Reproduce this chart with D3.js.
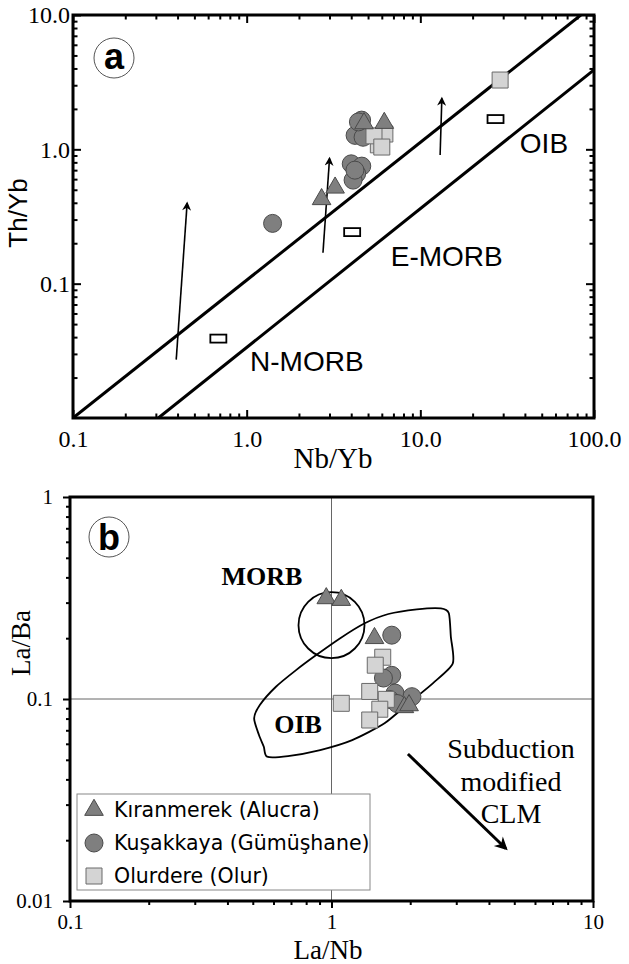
<!DOCTYPE html>
<html><head><meta charset="utf-8">
<script src="https://cdn.jsdelivr.net/npm/d3@7"></script>
<style>body{margin:0;background:#fff}</style>
</head><body>
<svg id="c" width="629" height="964"></svg>
<script>
// ---------------- DATA ----------------
// Panel a: Nb/Yb vs Th/Yb
const aKiranmerekNb = [2.70, 3.23, 4.74, 6.2];
const aKiranmerekTh = [0.425, 0.518, 1.56, 1.57];
const aKusakkayaNb = [1.41, 4.0, 4.6, 4.3, 4.1, 4.2, 4.59, 4.21, 4.68, 4.4];
const aKusakkayaTh = [0.281, 0.78, 0.75, 0.66, 0.59, 0.70, 1.65, 1.27, 1.23, 1.6];
const aOlurdereNb = [5.73, 6.25, 5.41, 6.0, 28.8];
const aOlurdereTh = [1.08, 1.30, 1.26, 1.04, 3.28];
const aRefNames = ["N-MORB", "E-MORB", "OIB"];
const aRefNb = [0.687, 4.05, 27.1];
const aRefTh = [0.039, 0.242, 1.68];
const aRefLabelNb = [2.22, 14.2, 51.5];
const aRefLabelTh = [0.0265, 0.161, 1.12];
const aArrayUpper = [[0.1, 0.01], [84, 10]];
const aArrayLower = [[0.31, 0.01], [100, 3.9]];
const aArrows = [[[0.393, 0.0272], [0.454, 0.396]], [[2.75, 0.170], [3.0, 0.853]], [[13.0, 0.909], [13.3, 2.39]]];
const aXTicks = [0.1, 1, 10, 100];
const aXTickLabels = ["0.1", "1.0", "10.0", "100.0"];
const aYTicks = [0.1, 1, 10];
const aYTickLabels = ["0.1", "1.0", "10.0"];

// Panel b: La/Nb vs La/Ba
const bKiranmerekLaNb = [0.955, 1.09, 1.46, 1.90, 1.98];
const bKiranmerekLaBa = [0.315, 0.309, 0.200, 0.091, 0.093];
const bKusakkayaLaNb = [1.70, 1.70, 1.58, 1.75, 2.03, 1.67, 1.78];
const bKusakkayaLaBa = [0.207, 0.131, 0.127, 0.107, 0.1027, 0.0994, 0.095];
const bOlurdereLaNb = [1.57, 1.47, 1.40, 1.09, 1.62, 1.53, 1.40];
const bOlurdereLaBa = [0.161, 0.147, 0.109, 0.0952, 0.0996, 0.089, 0.0787];
const bOibField = [[2.62,0.281],[2.81,0.266],[2.86,0.2035],[2.91,0.150],[2.44,0.1196],[1.97,0.0952],[1.595,0.0758],[1.20,0.0626],[0.905,0.0559],[0.682,0.0522],[0.567,0.0518],[0.551,0.058],[0.528,0.0663],[0.506,0.0802],[0.532,0.0934],[0.613,0.115],[0.732,0.139],[0.874,0.165],[1.08,0.20],[1.34,0.237],[1.65,0.2635],[2.12,0.278]];
const bMorbCenter = [1.0, 0.232];
const bArrow = [[1.96, 0.0534], [4.64, 0.0182]];
const bXTicks = [0.1, 1, 10];
const bXTickLabels = ["0.1", "1", "10"];
const bYTicks = [0.01, 0.1, 1];
const bYTickLabels = ["0.01", "0.1", "1"];
const legendLabels = ["Kıranmerek (Alucra)", "Kuşakkaya (Gümüşhane)", "Olurdere (Olur)"];
const minorMult = [2, 3, 4, 5, 6, 7, 8, 9];

// ---------------- DRAWING ----------------
const svg = d3.select("#c");
const serif = "'Liberation Serif','Times New Roman',serif";
const sans = "'Liberation Sans',Arial,sans-serif";
const dsans = "'DejaVu Sans',sans-serif";
const darkFill = "#7f7f7f", darkStroke = "#4a4a4a";
const lightFill = "#d4d4d4", lightStroke = "#6a6a6a";

const defs = svg.append("defs");
function marker(id, w, h) {
  defs.append("marker").attr("id", id).attr("viewBox", "0 0 10 10")
    .attr("refX", 8).attr("refY", 5).attr("markerUnits", "userSpaceOnUse")
    .attr("markerWidth", w).attr("markerHeight", h).attr("orient", "auto")
    .append("path").attr("d", "M0,0 L10,5 L0,10 L3,5 Z").attr("fill", "#000");
}
marker("headA", 10, 9);
marker("headB", 14, 13);

function minors(lo, hi) {
  const out = [];
  for (let e = Math.round(Math.log10(lo)); e < Math.round(Math.log10(hi)); e++)
    minorMult.forEach(m => out.push(m * Math.pow(10, e)));
  return out;
}

const sym = (type, size) => d3.symbol().type(type).size(size)();

function drawPoints(g, x, y, xs, ys, kind) {
  const pts = xs.map((v, i) => [v, ys[i]]);
  const sel = g.selectAll(null).data(pts).join("path")
    .attr("transform", d => `translate(${x(d[0])},${y(d[1])})`);
  if (kind === "tri") sel.attr("d", sym(d3.symbolTriangle, 150)).attr("fill", darkFill).attr("stroke", darkStroke).attr("stroke-width", 1);
  if (kind === "cir") sel.attr("d", sym(d3.symbolCircle, Math.PI * 81)).attr("fill", darkFill).attr("stroke", darkStroke).attr("stroke-width", 1);
  if (kind === "sq") sel.attr("d", sym(d3.symbolSquare, 256)).attr("fill", lightFill).attr("stroke", lightStroke).attr("stroke-width", 1);
}

// ===== Panel a =====
const A = {l: 73, r: 594, t: 15, b: 418};
const xa = d3.scaleLog().domain([0.1, 100]).range([A.l, A.r]);
const ya = d3.scaleLog().domain([0.01, 10]).range([A.b, A.t]);
const ga = svg.append("g");
defs.append("clipPath").attr("id", "clipA").append("rect").attr("x", A.l).attr("y", A.t).attr("width", A.r - A.l).attr("height", A.b - A.t);

function styleAxis(g) { g.select(".domain").remove(); g.selectAll("line").attr("stroke", "#000").attr("stroke-width", 2); }

const aXMin = minors(0.1, 100), aYMin = minors(0.01, 10);
ga.append("g").attr("transform", `translate(0,${A.b})`)
  .call(d3.axisBottom(xa).tickValues(aXTicks).tickSize(-8).tickPadding(12).tickFormat((d, i) => aXTickLabels[i]))
  .call(styleAxis).call(g => g.selectAll("text").attr("font-family", serif).attr("font-size", 24).attr("fill", "#000"));
ga.append("g").attr("transform", `translate(0,${A.b})`).call(d3.axisBottom(xa).tickValues(aXMin).tickSize(-4.5).tickFormat("")).call(styleAxis);
ga.append("g").attr("transform", `translate(0,${A.t})`).call(d3.axisTop(xa).tickValues(aXTicks).tickSize(-8).tickFormat("")).call(styleAxis);
ga.append("g").attr("transform", `translate(0,${A.t})`).call(d3.axisTop(xa).tickValues(aXMin).tickSize(-4.5).tickFormat("")).call(styleAxis);
ga.append("g").attr("transform", `translate(${A.l},0)`)
  .call(d3.axisLeft(ya).tickValues(aYTicks).tickSize(-8).tickPadding(3).tickFormat((d, i) => aYTickLabels[i]))
  .call(styleAxis).call(g => g.selectAll("text").attr("font-family", serif).attr("font-size", 24).attr("fill", "#000"));
ga.append("g").attr("transform", `translate(${A.l},0)`).call(d3.axisLeft(ya).tickValues(aYMin).tickSize(-4.5).tickFormat("")).call(styleAxis);
ga.append("g").attr("transform", `translate(${A.r},0)`).call(d3.axisRight(ya).tickValues(aYTicks).tickSize(-8).tickFormat("")).call(styleAxis);
ga.append("g").attr("transform", `translate(${A.r},0)`).call(d3.axisRight(ya).tickValues(aYMin).tickSize(-4.5).tickFormat("")).call(styleAxis);

const lineA = d3.line().x(d => xa(d[0])).y(d => ya(d[1]));
const plotA = ga.append("g").attr("clip-path", "url(#clipA)");
[aArrayUpper, aArrayLower].forEach(l => plotA.append("path").attr("d", lineA(l)).attr("stroke", "#000").attr("stroke-width", 3).attr("fill", "none"));
aArrows.forEach(a => ga.append("path").attr("d", lineA(a)).attr("stroke", "#000").attr("stroke-width", 1.6).attr("fill", "none").attr("marker-end", "url(#headA)"));

ga.selectAll(null).data(aRefNb).join("rect")
  .attr("x", (d) => xa(d) - 8).attr("y", (d, i) => ya(aRefTh[i]) - 4)
  .attr("width", 16).attr("height", 8).attr("fill", "#fff").attr("stroke", "#000").attr("stroke-width", 1.8);
ga.selectAll(null).data(aRefNames).join("text")
  .attr("x", (d, i) => xa(aRefLabelNb[i])).attr("y", (d, i) => ya(aRefLabelTh[i]))
  .attr("dy", "0.36em").attr("text-anchor", "middle").attr("font-family", sans).attr("font-size", 28).text(d => d);

drawPoints(ga, xa, ya, aKusakkayaNb, aKusakkayaTh, "cir");
drawPoints(ga, xa, ya, aOlurdereNb, aOlurdereTh, "sq");
drawPoints(ga, xa, ya, aKiranmerekNb, aKiranmerekTh, "tri");

ga.append("rect").attr("x", A.l).attr("y", A.t).attr("width", A.r - A.l).attr("height", A.b - A.t)
  .attr("fill", "none").attr("stroke", "#000").attr("stroke-width", 3);

ga.append("circle").attr("cx", 114).attr("cy", 58).attr("r", 20).attr("fill", "#fff").attr("stroke", "#555").attr("stroke-width", 1);
ga.append("text").attr("x", 114).attr("y", 69).attr("text-anchor", "middle").attr("font-family", sans).attr("font-weight", "bold").attr("font-size", 36).text("a");

ga.append("text").attr("transform", "translate(27,213) rotate(-90)").attr("text-anchor", "middle")
  .attr("font-family", sans).attr("font-size", 26).text("Th/Yb");
ga.append("text").attr("x", 333).attr("y", 468).attr("text-anchor", "middle")
  .attr("font-family", serif).attr("font-size", 29).text("Nb/Yb");

// ===== Panel b =====
const B = {l: 70, r: 593, t: 497, b: 901};
const xb = d3.scaleLog().domain([0.1, 10]).range([B.l, B.r]);
const yb = d3.scaleLog().domain([0.01, 1]).range([B.b, B.t]);
const gb = svg.append("g");

gb.append("line").attr("x1", xb(1)).attr("x2", xb(1)).attr("y1", B.t).attr("y2", B.b).attr("stroke", "#666").attr("stroke-width", 1);
gb.append("line").attr("x1", B.l).attr("x2", B.r).attr("y1", yb(0.1)).attr("y2", yb(0.1)).attr("stroke", "#666").attr("stroke-width", 1);

const bXMin = minors(0.1, 10), bYMin = minors(0.01, 1);
gb.append("g").attr("transform", `translate(0,${B.b})`)
  .call(d3.axisBottom(xb).tickValues(bXTicks).tickSize(7).tickPadding(6).tickFormat((d, i) => bXTickLabels[i]))
  .call(styleAxis).call(g => g.selectAll("text").attr("font-family", serif).attr("font-size", 21).attr("fill", "#000"));
gb.append("g").attr("transform", `translate(0,${B.b})`).call(d3.axisBottom(xb).tickValues(bXMin).tickSize(4).tickFormat("")).call(styleAxis);
gb.append("g").attr("transform", `translate(${B.l},0)`)
  .call(d3.axisLeft(yb).tickValues(bYTicks).tickSize(7).tickPadding(10).tickFormat((d, i) => bYTickLabels[i]))
  .call(styleAxis).call(g => g.selectAll("text").attr("font-family", serif).attr("font-size", 21).attr("fill", "#000"));
gb.append("g").attr("transform", `translate(${B.l},0)`).call(d3.axisLeft(yb).tickValues(bYMin).tickSize(4).tickFormat("")).call(styleAxis);

const lineB = d3.line().x(d => xb(d[0])).y(d => yb(d[1]));
gb.append("path").attr("d", lineB.curve(d3.curveCardinalClosed.tension(0.3))(bOibField))
  .attr("fill", "none").attr("stroke", "#000").attr("stroke-width", 1.8);
gb.append("circle").attr("cx", xb(bMorbCenter[0])).attr("cy", yb(bMorbCenter[1])).attr("r", 33)
  .attr("fill", "none").attr("stroke", "#000").attr("stroke-width", 1.8);

gb.append("text").attr("x", 262).attr("y", 585).attr("text-anchor", "middle").attr("font-family", serif).attr("font-weight", "bold").attr("font-size", 26).text("MORB");
gb.append("text").attr("x", 298).attr("y", 733).attr("text-anchor", "middle").attr("font-family", serif).attr("font-weight", "bold").attr("font-size", 26).text("OIB");

drawPoints(gb, xb, yb, bKusakkayaLaNb, bKusakkayaLaBa, "cir");
drawPoints(gb, xb, yb, bOlurdereLaNb, bOlurdereLaBa, "sq");
drawPoints(gb, xb, yb, bKiranmerekLaNb, bKiranmerekLaBa, "tri");

gb.append("path").attr("d", d3.line().x(d => xb(d[0])).y(d => yb(d[1]))(bArrow))
  .attr("stroke", "#000").attr("stroke-width", 3).attr("fill", "none").attr("marker-end", "url(#headB)");
const subT = gb.append("text").attr("text-anchor", "middle").attr("font-family", serif).attr("font-size", 28);
["Subduction", "modified", "CLM"].forEach((t, i) => subT.append("tspan").attr("x", 511).attr("y", 758 + i * 32.5).text(t));

const lg = gb.append("g");
lg.append("rect").attr("x", 77).attr("y", 794).attr("width", 293).attr("height", 96).attr("fill", "#fff").attr("stroke", "#888").attr("stroke-width", 1);
const kinds = ["tri", "cir", "sq"];
const lgY = [810, 843, 876];
kinds.forEach((k, i) => {
  drawPoints(lg, d => d, d => d, [94], [lgY[i]], k);
  lg.append("text").attr("x", 114).attr("y", lgY[i]).attr("dy", "0.36em").attr("font-family", dsans).attr("font-size", 20.5).text(legendLabels[i]);
});

gb.append("rect").attr("x", B.l).attr("y", B.t).attr("width", B.r - B.l).attr("height", B.b - B.t)
  .attr("fill", "none").attr("stroke", "#000").attr("stroke-width", 3);

gb.append("circle").attr("cx", 109).attr("cy", 537).attr("r", 20).attr("fill", "#fff").attr("stroke", "#555").attr("stroke-width", 1);
gb.append("text").attr("x", 109).attr("y", 550).attr("text-anchor", "middle").attr("font-family", sans).attr("font-weight", "bold").attr("font-size", 36).text("b");

gb.append("text").attr("transform", "translate(30,643) rotate(-90)").attr("text-anchor", "middle")
  .attr("font-family", serif).attr("font-size", 27).text("La/Ba");
gb.append("text").attr("x", 328).attr("y", 959).attr("text-anchor", "middle")
  .attr("font-family", serif).attr("font-size", 27).text("La/Nb");
</script>
</body></html>
